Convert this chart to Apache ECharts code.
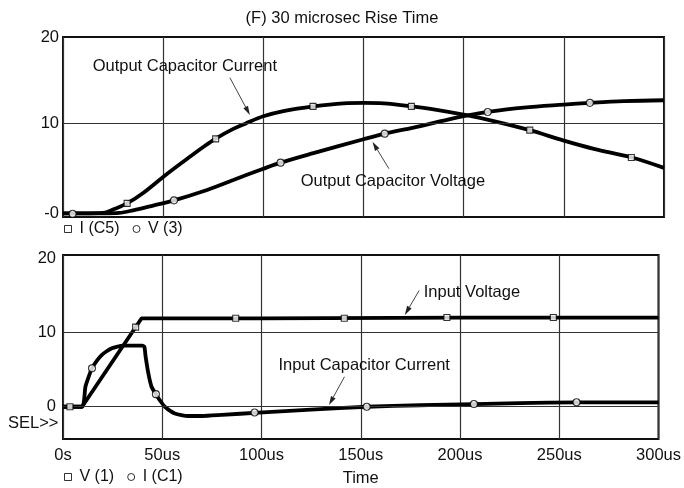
<!DOCTYPE html>
<html>
<head>
<meta charset="utf-8">
<script src="https://cdn.jsdelivr.net/npm/echarts@6/dist/echarts.min.js"></script>
<style>html,body{margin:0;padding:0;background:#fff}#c{width:684px;height:488px}</style>
</head>
<body>
<div id="c"></div>
<script>
// ---- Data (time in microseconds) ----
// Top panel: Output Capacitor Current I(C5)
var outCurT = [0, 10, 20, 25, 32, 40, 50, 60, 70, 76, 85, 91, 100, 110, 125, 140, 150, 160, 174, 185, 202, 215, 233, 250, 265, 284, 300];
var outCurV = [-0.35, -0.35, -0.3, 0.1, 0.8, 2.0, 3.85, 5.6, 7.3, 8.25, 9.4, 10.0, 10.85, 11.45, 12.0, 12.35, 12.4, 12.35, 12.0, 11.65, 10.95, 10.3, 9.25, 8.05, 7.1, 6.1, 4.9];
var outCurMkT = [32, 76.2, 124.8, 173.9, 233, 283.7];
var outCurMkV = [0.8, 8.25, 12.0, 12.0, 9.25, 6.1];
// Top panel: Output Capacitor Voltage V(3)
var outVolT = [0, 20, 28, 35, 45, 55.4, 70, 85, 100, 108.6, 125, 150, 160.6, 175, 190, 202, 212, 230, 250, 263, 280, 300];
var outVolV = [-0.35, -0.35, -0.3, 0.0, 0.55, 1.15, 2.2, 3.5, 4.8, 5.5, 6.6, 8.2, 8.85, 9.55, 10.35, 10.95, 11.35, 11.85, 12.2, 12.4, 12.6, 12.7];
var outVolMkT = [4.8, 55.4, 108.6, 160.6, 212, 263];
var outVolMkV = [-0.4, 1.15, 5.5, 8.85, 11.35, 12.4];
// Bottom panel: Input Voltage V(1)
var inVolT = [0, 9.6, 39.6, 100, 200, 300];
var inVolV = [0, 0, 11.95, 11.95, 12.05, 12.05];
var inVolMkT = [3.5, 36.6, 87, 141.7, 193.4, 247];
var inVolMkV = [0, 10.75, 11.95, 11.95, 12.05, 12.05];
// Bottom panel: Input Capacitor Current I(C1)
var inCurT = [0, 9.6, 11.3, 13, 14.6, 17, 19.6, 22, 24.6, 27, 30.4, 40, 41, 41.6, 43, 44.6, 46.8, 49, 51.3, 56.3, 63, 70, 80, 98.6, 125, 153, 180, 207, 230, 259, 300];
var inCurV = [0, 0, 2.7, 4.1, 5.2, 6.2, 7.0, 7.5, 7.9, 8.1, 8.25, 8.25, 8.1, 6.8, 4.5, 2.7, 1.7, 0.8, 0, -0.9, -1.25, -1.25, -1.1, -0.8, -0.4, 0, 0.2, 0.36, 0.48, 0.6, 0.6];
var inCurMkT = [14.6, 46.8, 96.5, 153, 207, 258.7];
var inCurMkV = [5.2, 1.7, -0.78, 0, 0.36, 0.6];

var xTicks = [0, 50, 100, 150, 200, 250, 300];
var topYTicks = [-0.35, 10, 20];
var botYTicks = [0, 10, 20];
var topHLines = [10];
var botHLines = [0, 10];

var FONT = '"Liberation Sans", Arial, Helvetica, sans-serif';
var TXT = '#111';

function zip(a, b) { return a.map(function (v, i) { return [v, b[i]]; }); }

var chart = echarts.init(document.getElementById('c'), null, { renderer: 'canvas' });

function curve(name, gi, t, v, smooth) {
  return {
    name: name, type: 'line', xAxisIndex: gi, yAxisIndex: gi,
    data: zip(t, v), showSymbol: false, symbol: 'none',
    smooth: smooth,
    lineStyle: { color: '#000', width: 3.8 }, z: 3, silent: true, animation: false
  };
}
function markers(name, gi, t, v, sym) {
  return {
    name: name, type: 'scatter', xAxisIndex: gi, yAxisIndex: gi,
    data: zip(t, v), symbol: sym, symbolSize: sym === 'rect' ? 6 : 7,
    itemStyle: { color: '#fff', borderColor: '#000', borderWidth: 1.1 },
    z: 5, silent: true, animation: false
  };
}
function hlines(gi, vals) {
  return {
    type: 'line', xAxisIndex: gi, yAxisIndex: gi, data: [], z: 1, silent: true, animation: false,
    markLine: {
      silent: true, symbol: 'none', animation: false,
      label: { show: false },
      lineStyle: { color: '#333', width: 1.2, type: 'solid' },
      data: vals.map(function (v) { return { yAxis: v }; })
    }
  };
}

var legendCommon = {
  orient: 'horizontal', itemWidth: 7, itemHeight: 7, itemGap: 13, padding: 0,
  textStyle: { fontFamily: FONT, fontSize: 16, color: TXT, padding: [0, 0, 0, 3] },
  itemStyle: { color: '#fff', borderColor: '#000', borderWidth: 1 },
  selectedMode: false
};

var option = {
  backgroundColor: '#fff',
  animation: false,
  title: {
    text: '(F) 30 microsec Rise Time', left: 'center', top: 5,
    textStyle: { fontFamily: FONT, fontSize: 16.5, fontWeight: 'normal', color: TXT }
  },
  legend: [
    Object.assign({}, legendCommon, { left: 64, top: 221, data: [{ name: 'I (C5)', icon: 'rect' }, { name: 'V (3)', icon: 'circle' }] }),
    Object.assign({}, legendCommon, { left: 64, top: 469, data: [{ name: 'V (1)', icon: 'rect' }, { name: 'I (C1)', icon: 'circle' }] })
  ],
  grid: [
    { left: 63, top: 37, width: 601, height: 180, show: true, borderColor: '#111', borderWidth: 2, backgroundColor: 'transparent' },
    { left: 63, top: 255, width: 601, height: 184, show: true, borderColor: '#111', borderWidth: 2, backgroundColor: 'transparent' }
  ],
  xAxis: [
    { type: 'value', gridIndex: 0, min: 0, max: 300, interval: 50,
      axisLine: { show: false }, axisTick: { show: false }, axisLabel: { show: false },
      splitLine: { show: true, lineStyle: { color: '#333', width: 1.2 } } },
    { type: 'value', gridIndex: 1, min: 0, max: 300, interval: 50,
      axisLine: { show: false }, axisTick: { show: false },
      axisLabel: { show: true, margin: 8, fontFamily: FONT, fontSize: 16.5, color: TXT,
        customValues: xTicks,
        formatter: function (v) { return v === 0 ? '0s' : v + 'us'; } },
      splitLine: { show: true, lineStyle: { color: '#333', width: 1.2 } },
      name: 'Time', nameLocation: 'middle', nameGap: 31,
      nameTextStyle: { fontFamily: FONT, fontSize: 16.5, color: TXT } }
  ],
  yAxis: [
    { type: 'value', gridIndex: 0, min: -0.77, max: 20,
      axisLine: { show: false }, axisTick: { show: false }, splitLine: { show: false },
      axisLabel: { show: true, margin: 4, fontFamily: FONT, fontSize: 16.5, color: TXT,
        customValues: topYTicks,
        formatter: function (v) { return v < 0 ? '-0' : String(v); } } },
    { type: 'value', gridIndex: 1, min: -4.36, max: 20.5,
      axisLine: { show: false }, axisTick: { show: false }, splitLine: { show: false },
      axisLabel: { show: true, margin: 7, fontFamily: FONT, fontSize: 16.5, color: TXT,
        customValues: botYTicks,
        formatter: function (v) { return String(v); } } }
  ],
  series: [
    hlines(0, topHLines),
    hlines(1, botHLines),
    curve('Output Capacitor Current', 0, outCurT, outCurV, 0.35),
    curve('Output Capacitor Voltage', 0, outVolT, outVolV, 0.35),
    curve('Input Voltage', 1, inVolT, inVolV, false),
    curve('Input Capacitor Current', 1, inCurT, inCurV, 0.2),
    markers('I (C5)', 0, outCurMkT, outCurMkV, 'rect'),
    markers('V (3)', 0, outVolMkT, outVolMkV, 'circle'),
    markers('V (1)', 1, inVolMkT, inVolMkV, 'rect'),
    markers('I (C1)', 1, inCurMkT, inCurMkV, 'circle')
  ]
};
chart.setOption(option);

// ---- Annotations (text + arrow), anchored in data coordinates ----
var annotations = [
  { grid: 0, text: 'Output Capacitor Current', at: [60.8, 16.6], from: [83.3, 15.3], to: [93.3, 11.0] },
  { grid: 0, text: 'Output Capacitor Voltage', at: [164.7, 3.3], from: [162.7, 4.8], to: [154.5, 7.9] },
  { grid: 1, text: 'Input Voltage', at: [206, 15.5], from: [179.4, 15.7], to: [172.2, 12.4] },
  { grid: 1, text: 'Input Capacitor Current', at: [151.7, 5.6], from: [141.8, 4.05], to: [134, 0.23] }
];
var g = [];
annotations.forEach(function (a) {
  var p = chart.convertToPixel({ gridIndex: a.grid }, a.at);
  var s = chart.convertToPixel({ gridIndex: a.grid }, a.from);
  var e = chart.convertToPixel({ gridIndex: a.grid }, a.to);
  g.push({ type: 'text', x: p[0], y: p[1], z: 10, silent: true,
    style: { text: a.text, font: '16.5px ' + FONT, fill: TXT, textAlign: 'center', textVerticalAlign: 'middle' } });
  var dx = e[0] - s[0], dy = e[1] - s[1], L = Math.sqrt(dx * dx + dy * dy);
  var ux = dx / L, uy = dy / L, hl = 9, hw = 2.6;
  var bx = e[0] - ux * hl, by = e[1] - uy * hl;
  g.push({ type: 'line', z: 10, silent: true, shape: { x1: s[0], y1: s[1], x2: bx, y2: by },
    style: { stroke: '#444', lineWidth: 1 } });
  g.push({ type: 'polygon', z: 10, silent: true,
    shape: { points: [[e[0], e[1]], [bx - uy * hw, by + ux * hw], [bx + uy * hw, by - ux * hw]] },
    style: { fill: '#222' } });
});
g.push({ type: 'text', left: 8, top: 415, z: 10, silent: true,
  style: { text: 'SEL>>', font: '16.5px ' + FONT, fill: TXT } });
chart.setOption({ graphic: g });
</script>
</body>
</html>
